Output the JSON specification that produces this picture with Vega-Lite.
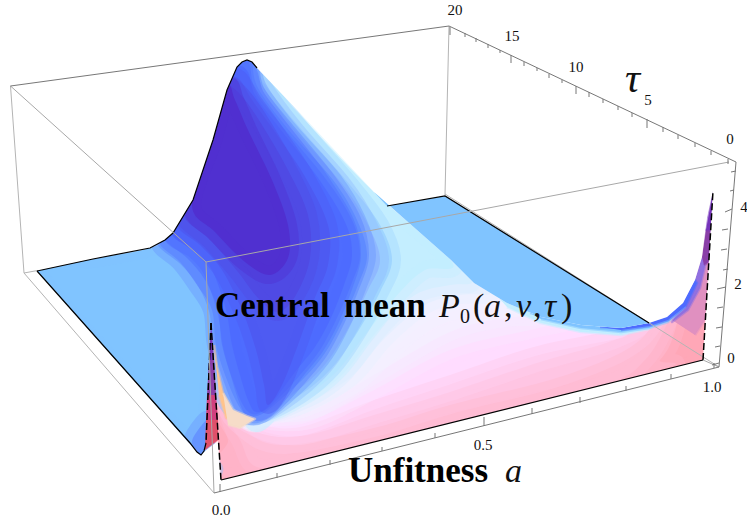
{"$schema":"https://vega.github.io/schema/vega-lite/v6.json","width":747,"height":521,"padding":0,"autosize":{"type":"none"},"background":"white","config":{"view":{"stroke":null}},
"datasets":{
"backEdges":[{"x":10.5,"y":86,"x2":24,"y2":273},{"x":24,"y":273,"x2":214,"y2":493},{"x":449,"y":26,"x2":445,"y2":195},{"x":445,"y":194,"x2":719,"y2":367},{"x":24,"y":273,"x2":37,"y2":270.6}],
"frontEdges":[{"x":10.5,"y":86,"x2":206,"y2":262},{"x":206,"y":262,"x2":729,"y2":162},{"x":206,"y":262,"x2":214,"y2":493},{"x":703,"y":360,"x2":719,"y2":367}],
"axisLines":[{"x":10.5,"y":86,"x2":449,"y2":26},{"x":449,"y":26,"x2":736,"y2":162},{"x":736,"y":162,"x2":719,"y2":367},{"x":214,"y":493,"x2":719,"y2":367},
{"x":220,"y":484,"x2":220,"y2":492},{"x":277,"y":473,"x2":277,"y2":478},{"x":330,"y":460,"x2":330,"y2":465},{"x":382,"y":447,"x2":382,"y2":451},{"x":435,"y":433,"x2":435,"y2":438},{"x":484,"y":417,"x2":484,"y2":426},{"x":532,"y":408,"x2":532,"y2":414},{"x":580,"y":397,"x2":580,"y2":403},{"x":626,"y":386,"x2":626,"y2":391},{"x":671,"y":374,"x2":671,"y2":379},{"x":714,"y":363,"x2":714,"y2":368},
{"x":450,"y":27,"x2":450,"y2":35},{"x":465,"y":33,"x2":465,"y2":37},{"x":476,"y":38,"x2":476,"y2":42},{"x":488,"y":44,"x2":488,"y2":48},{"x":500,"y":50,"x2":500,"y2":53},{"x":511,"y":55,"x2":511,"y2":63},{"x":524,"y":62,"x2":524,"y2":66},{"x":537,"y":68,"x2":537,"y2":71},{"x":549,"y":74,"x2":549,"y2":78},{"x":562,"y":80,"x2":562,"y2":83},{"x":576,"y":86,"x2":576,"y2":94},{"x":589,"y":92,"x2":589,"y2":97},{"x":603,"y":99,"x2":603,"y2":103},{"x":618,"y":106,"x2":618,"y2":110},{"x":632,"y":113,"x2":632,"y2":117},{"x":647,"y":119,"x2":647,"y2":128},{"x":663,"y":127,"x2":663,"y2":132},{"x":678,"y":135,"x2":678,"y2":139},{"x":695,"y":143,"x2":695,"y2":147},{"x":711,"y":151,"x2":711,"y2":155},{"x":728,"y":159,"x2":728,"y2":164},
{"x":731,"y":172,"x2":736,"y2":171},{"x":730,"y":191,"x2":734,"y2":190},{"x":725,"y":212,"x2":732,"y2":209},{"x":722,"y":230,"x2":728,"y2":229},{"x":721,"y":250,"x2":727,"y2":249},{"x":723,"y":270,"x2":728,"y2":269},{"x":717,"y":289,"x2":726,"y2":287},{"x":717,"y":308,"x2":723,"y2":307},{"x":716,"y":328,"x2":722,"y2":327},{"x":715,"y":347,"x2":720,"y2":346},{"x":712,"y":365,"x2":719,"y2":363}],
"soft":[
{"p":2,"s":0.3,"x":218,"y":375},{"p":2,"s":0.3,"x":221,"y":480},{"p":2,"s":0.3,"x":703,"y":360},{"p":2,"s":0.3,"x":708,"y":262},{"p":2,"s":0.3,"x":702,"y":257},{"p":2,"s":0.3,"x":695,"y":280},{"p":2,"s":0.3,"x":683,"y":303},{"p":2,"s":0.3,"x":667,"y":317},{"p":2,"s":0.3,"x":649,"y":323},{"p":2,"s":0.3,"x":621,"y":328},{"p":2,"s":0.3,"x":581,"y":325},{"p":2,"s":0.3,"x":541,"y":317},{"p":2,"s":0.3,"x":507,"y":303},{"p":2,"s":0.3,"x":474,"y":283},{"p":2,"s":0.3,"x":451,"y":260},{"p":2,"s":0.3,"x":400,"y":225},{"p":2,"s":0.3,"x":300,"y":200},{"p":2,"s":0.3,"x":230,"y":300},
{"p":3,"s":0.7,"x":219,"y":400},{"p":3,"s":0.7,"x":228,"y":440},{"p":3,"s":0.7,"x":236,"y":476},{"p":3,"s":0.7,"x":640,"y":376},{"p":3,"s":0.7,"x":660,"y":360},{"p":3,"s":0.7,"x":672,"y":340},{"p":3,"s":0.7,"x":680,"y":307},{"p":3,"s":0.7,"x":667,"y":317},{"p":3,"s":0.7,"x":649,"y":323},{"p":3,"s":0.7,"x":621,"y":328},{"p":3,"s":0.7,"x":581,"y":325},{"p":3,"s":0.7,"x":541,"y":317},{"p":3,"s":0.7,"x":507,"y":303},{"p":3,"s":0.7,"x":474,"y":283},{"p":3,"s":0.7,"x":451,"y":260},{"p":3,"s":0.7,"x":400,"y":225},{"p":3,"s":0.7,"x":300,"y":200},{"p":3,"s":0.7,"x":230,"y":300},
{"p":4,"s":1,"x":221,"y":395},{"p":4,"s":1,"x":240,"y":440},{"p":4,"s":1,"x":262,"y":468},{"p":4,"s":1,"x":340,"y":450},{"p":4,"s":1,"x":500,"y":410},{"p":4,"s":1,"x":610,"y":383},{"p":4,"s":1,"x":645,"y":360},{"p":4,"s":1,"x":664,"y":330},{"p":4,"s":1,"x":667,"y":317},{"p":4,"s":1,"x":649,"y":323},{"p":4,"s":1,"x":621,"y":328},{"p":4,"s":1,"x":581,"y":325},{"p":4,"s":1,"x":541,"y":317},{"p":4,"s":1,"x":507,"y":303},{"p":4,"s":1,"x":474,"y":283},{"p":4,"s":1,"x":451,"y":260},{"p":4,"s":1,"x":400,"y":225},{"p":4,"s":1,"x":300,"y":200},{"p":4,"s":1,"x":230,"y":300},
{"p":5,"s":1.3,"x":224,"y":395},{"p":5,"s":1.3,"x":245,"y":430},{"p":5,"s":1.3,"x":285,"y":445},{"p":5,"s":1.3,"x":374,"y":428},{"p":5,"s":1.3,"x":450,"y":405},{"p":5,"s":1.3,"x":550,"y":380},{"p":5,"s":1.3,"x":610,"y":358},{"p":5,"s":1.3,"x":640,"y":340},{"p":5,"s":1.3,"x":655,"y":321},{"p":5,"s":1.3,"x":649,"y":323},{"p":5,"s":1.3,"x":621,"y":328},{"p":5,"s":1.3,"x":581,"y":325},{"p":5,"s":1.3,"x":541,"y":317},{"p":5,"s":1.3,"x":507,"y":303},{"p":5,"s":1.3,"x":474,"y":283},{"p":5,"s":1.3,"x":451,"y":260},{"p":5,"s":1.3,"x":400,"y":225},{"p":5,"s":1.3,"x":300,"y":200},{"p":5,"s":1.3,"x":230,"y":300},
{"p":6,"s":1.6,"x":228,"y":395},{"p":6,"s":1.6,"x":250,"y":425},{"p":6,"s":1.6,"x":300,"y":436},{"p":6,"s":1.6,"x":374,"y":415},{"p":6,"s":1.6,"x":450,"y":392},{"p":6,"s":1.6,"x":540,"y":362},{"p":6,"s":1.6,"x":600,"y":345},{"p":6,"s":1.6,"x":630,"y":333},{"p":6,"s":1.6,"x":640,"y":326},{"p":6,"s":1.6,"x":621,"y":328},{"p":6,"s":1.6,"x":581,"y":325},{"p":6,"s":1.6,"x":541,"y":317},{"p":6,"s":1.6,"x":507,"y":303},{"p":6,"s":1.6,"x":474,"y":283},{"p":6,"s":1.6,"x":451,"y":260},{"p":6,"s":1.6,"x":400,"y":225},{"p":6,"s":1.6,"x":300,"y":200},{"p":6,"s":1.6,"x":230,"y":300},
{"p":7,"s":2,"x":232,"y":400},{"p":7,"s":2,"x":255,"y":422},{"p":7,"s":2,"x":300,"y":427},{"p":7,"s":2,"x":374,"y":400},{"p":7,"s":2,"x":450,"y":375},{"p":7,"s":2,"x":530,"y":348},{"p":7,"s":2,"x":590,"y":335},{"p":7,"s":2,"x":621,"y":328},{"p":7,"s":2,"x":581,"y":325},{"p":7,"s":2,"x":541,"y":317},{"p":7,"s":2,"x":507,"y":303},{"p":7,"s":2,"x":474,"y":283},{"p":7,"s":2,"x":451,"y":260},{"p":7,"s":2,"x":400,"y":225},{"p":7,"s":2,"x":300,"y":200},{"p":7,"s":2,"x":230,"y":300},
{"p":8,"s":2.4,"x":238,"y":408},{"p":8,"s":2.4,"x":258,"y":419},{"p":8,"s":2.4,"x":310,"y":420},{"p":8,"s":2.4,"x":374,"y":390},{"p":8,"s":2.4,"x":450,"y":350},{"p":8,"s":2.4,"x":530,"y":330},{"p":8,"s":2.4,"x":565,"y":322},{"p":8,"s":2.4,"x":541,"y":317},{"p":8,"s":2.4,"x":507,"y":303},{"p":8,"s":2.4,"x":474,"y":283},{"p":8,"s":2.4,"x":451,"y":260},{"p":8,"s":2.4,"x":400,"y":225},{"p":8,"s":2.4,"x":300,"y":200},{"p":8,"s":2.4,"x":230,"y":300},
{"p":9,"s":2.8,"x":244,"y":412},{"p":9,"s":2.8,"x":262,"y":417},{"p":9,"s":2.8,"x":310,"y":412},{"p":9,"s":2.8,"x":374,"y":375},{"p":9,"s":2.8,"x":450,"y":332},{"p":9,"s":2.8,"x":505,"y":318},{"p":9,"s":2.8,"x":535,"y":316},{"p":9,"s":2.8,"x":507,"y":303},{"p":9,"s":2.8,"x":474,"y":283},{"p":9,"s":2.8,"x":451,"y":260},{"p":9,"s":2.8,"x":400,"y":225},{"p":9,"s":2.8,"x":300,"y":200},{"p":9,"s":2.8,"x":230,"y":300},
{"p":10,"s":3.1,"x":247,"y":414},{"p":10,"s":3.1,"x":265,"y":416},{"p":10,"s":3.1,"x":305,"y":408},{"p":10,"s":3.1,"x":355,"y":384},{"p":10,"s":3.1,"x":390,"y":352},{"p":10,"s":3.1,"x":430,"y":320},{"p":10,"s":3.1,"x":480,"y":305},{"p":10,"s":3.1,"x":510,"y":305},{"p":10,"s":3.1,"x":474,"y":283},{"p":10,"s":3.1,"x":451,"y":260},{"p":10,"s":3.1,"x":400,"y":225},{"p":10,"s":3.1,"x":300,"y":200},{"p":10,"s":3.1,"x":230,"y":300},
{"p":11,"s":3.4,"x":249,"y":415},{"p":11,"s":3.4,"x":270,"y":414},{"p":11,"s":3.4,"x":302,"y":405},{"p":11,"s":3.4,"x":350,"y":378},{"p":11,"s":3.4,"x":385,"y":338},{"p":11,"s":3.4,"x":425,"y":305},{"p":11,"s":3.4,"x":460,"y":295},{"p":11,"s":3.4,"x":490,"y":294},{"p":11,"s":3.4,"x":474,"y":283},{"p":11,"s":3.4,"x":451,"y":260},{"p":11,"s":3.4,"x":400,"y":225},{"p":11,"s":3.4,"x":300,"y":200},{"p":11,"s":3.4,"x":230,"y":300},
{"p":12,"s":3.7,"x":250,"y":415},{"p":12,"s":3.7,"x":272,"y":413},{"p":12,"s":3.7,"x":297,"y":403},{"p":12,"s":3.7,"x":320,"y":392},{"p":12,"s":3.7,"x":345,"y":372},{"p":12,"s":3.7,"x":380,"y":328},{"p":12,"s":3.7,"x":415,"y":295},{"p":12,"s":3.7,"x":450,"y":285},{"p":12,"s":3.7,"x":472,"y":282},{"p":12,"s":3.7,"x":451,"y":260},{"p":12,"s":3.7,"x":400,"y":225},{"p":12,"s":3.7,"x":300,"y":200},{"p":12,"s":3.7,"x":230,"y":300},
{"p":13,"s":4,"x":250,"y":415},{"p":13,"s":4,"x":272,"y":412},{"p":13,"s":4,"x":293,"y":402},{"p":13,"s":4,"x":317,"y":388},{"p":13,"s":4,"x":340,"y":368},{"p":13,"s":4,"x":365,"y":335},{"p":13,"s":4,"x":400,"y":292},{"p":13,"s":4,"x":425,"y":270},{"p":13,"s":4,"x":452,"y":262},{"p":13,"s":4,"x":374,"y":192},{"p":13,"s":4,"x":300,"y":115},{"p":13,"s":4,"x":257,"y":68},{"p":13,"s":4,"x":245,"y":100},{"p":13,"s":4,"x":230,"y":300},
{"p":14,"s":4.5,"x":214,"y":330},{"p":14,"s":4.5,"x":217,"y":367},{"p":14,"s":4.5,"x":223,"y":393},{"p":14,"s":4.5,"x":233,"y":410},{"p":14,"s":4.5,"x":247,"y":416},{"p":14,"s":4.5,"x":265,"y":413},{"p":14,"s":4.5,"x":290,"y":401},{"p":14,"s":4.5,"x":315,"y":384},{"p":14,"s":4.5,"x":337,"y":362},{"p":14,"s":4.5,"x":360,"y":328},{"p":14,"s":4.5,"x":380,"y":292},{"p":14,"s":4.5,"x":392,"y":260},{"p":14,"s":4.5,"x":380,"y":225},{"p":14,"s":4.5,"x":350,"y":185},{"p":14,"s":4.5,"x":302,"y":130},{"p":14,"s":4.5,"x":265,"y":85},{"p":14,"s":4.5,"x":257,"y":68},{"p":14,"s":4.5,"x":247,"y":60},{"p":14,"s":4.5,"x":225,"y":200},
{"p":15,"s":5,"x":214,"y":330},{"p":15,"s":5,"x":217,"y":367},{"p":15,"s":5,"x":223,"y":393},{"p":15,"s":5,"x":233,"y":410},{"p":15,"s":5,"x":247,"y":416},{"p":15,"s":5,"x":262,"y":414},{"p":15,"s":5,"x":285,"y":400},{"p":15,"s":5,"x":310,"y":380},{"p":15,"s":5,"x":330,"y":358},{"p":15,"s":5,"x":350,"y":325},{"p":15,"s":5,"x":368,"y":290},{"p":15,"s":5,"x":380,"y":260},{"p":15,"s":5,"x":368,"y":225},{"p":15,"s":5,"x":343,"y":185},{"p":15,"s":5,"x":295,"y":130},{"p":15,"s":5,"x":262,"y":85},{"p":15,"s":5,"x":254,"y":65},{"p":15,"s":5,"x":247,"y":60},{"p":15,"s":5,"x":225,"y":200},
{"p":16,"s":14,"x":37,"y":271},{"p":16,"s":14,"x":93,"y":259},{"p":16,"s":14,"x":150,"y":248},{"p":16,"s":14,"x":173,"y":233},{"p":16,"s":14,"x":193,"y":200},{"p":16,"s":14,"x":213,"y":140},{"p":16,"s":14,"x":227,"y":90},{"p":16,"s":14,"x":237,"y":67},{"p":16,"s":14,"x":247,"y":60},{"p":16,"s":14,"x":250,"y":100},{"p":16,"s":14,"x":240,"y":300},{"p":16,"s":14,"x":214,"y":330},{"p":16,"s":14,"x":206,"y":443},{"p":16,"s":14,"x":201,"y":455},
{"p":17,"s":5.5,"x":192,"y":442},{"p":17,"s":5.5,"x":198,"y":430},{"p":17,"s":5.5,"x":208,"y":420},{"p":17,"s":5.5,"x":206,"y":443},{"p":17,"s":5.5,"x":201,"y":455},{"p":17,"s":5.5,"x":197,"y":452},
{"p":18,"s":5.5,"x":160,"y":244},{"p":18,"s":5.5,"x":180,"y":262},{"p":18,"s":5.5,"x":197,"y":285},{"p":18,"s":5.5,"x":212,"y":310},{"p":18,"s":5.5,"x":216,"y":345},{"p":18,"s":5.5,"x":227,"y":380},{"p":18,"s":5.5,"x":240,"y":408},{"p":18,"s":5.5,"x":250,"y":416},{"p":18,"s":5.5,"x":262,"y":414},{"p":18,"s":5.5,"x":280,"y":400},{"p":18,"s":5.5,"x":305,"y":377},{"p":18,"s":5.5,"x":325,"y":353},{"p":18,"s":5.5,"x":342,"y":322},{"p":18,"s":5.5,"x":358,"y":285},{"p":18,"s":5.5,"x":367,"y":255},{"p":18,"s":5.5,"x":357,"y":220},{"p":18,"s":5.5,"x":333,"y":180},{"p":18,"s":5.5,"x":287,"y":128},{"p":18,"s":5.5,"x":258,"y":88},{"p":18,"s":5.5,"x":252,"y":64},{"p":18,"s":5.5,"x":247,"y":60},{"p":18,"s":5.5,"x":237,"y":67},{"p":18,"s":5.5,"x":227,"y":90},{"p":18,"s":5.5,"x":213,"y":140},{"p":18,"s":5.5,"x":193,"y":200},{"p":18,"s":5.5,"x":173,"y":233},
{"p":19,"s":5.8,"x":165,"y":240},{"p":19,"s":5.8,"x":187,"y":258},{"p":19,"s":5.8,"x":205,"y":280},{"p":19,"s":5.8,"x":218,"y":310},{"p":19,"s":5.8,"x":222,"y":345},{"p":19,"s":5.8,"x":232,"y":378},{"p":19,"s":5.8,"x":243,"y":405},{"p":19,"s":5.8,"x":252,"y":414},{"p":19,"s":5.8,"x":262,"y":412},{"p":19,"s":5.8,"x":275,"y":402},{"p":19,"s":5.8,"x":300,"y":375},{"p":19,"s":5.8,"x":320,"y":350},{"p":19,"s":5.8,"x":336,"y":320},{"p":19,"s":5.8,"x":351,"y":285},{"p":19,"s":5.8,"x":360,"y":255},{"p":19,"s":5.8,"x":352,"y":220},{"p":19,"s":5.8,"x":325,"y":178},{"p":19,"s":5.8,"x":282,"y":126},{"p":19,"s":5.8,"x":256,"y":92},{"p":19,"s":5.8,"x":250,"y":66},{"p":19,"s":5.8,"x":247,"y":60},{"p":19,"s":5.8,"x":237,"y":67},{"p":19,"s":5.8,"x":227,"y":90},{"p":19,"s":5.8,"x":213,"y":140},{"p":19,"s":5.8,"x":193,"y":200},{"p":19,"s":5.8,"x":173,"y":233},
{"p":20,"s":6,"x":172,"y":233},{"p":20,"s":6,"x":195,"y":250},{"p":20,"s":6,"x":212,"y":270},{"p":20,"s":6,"x":226,"y":310},{"p":20,"s":6,"x":232,"y":345},{"p":20,"s":6,"x":240,"y":375},{"p":20,"s":6,"x":248,"y":400},{"p":20,"s":6,"x":256,"y":412},{"p":20,"s":6,"x":270,"y":405},{"p":20,"s":6,"x":295,"y":372},{"p":20,"s":6,"x":315,"y":347},{"p":20,"s":6,"x":330,"y":320},{"p":20,"s":6,"x":344,"y":285},{"p":20,"s":6,"x":352,"y":255},{"p":20,"s":6,"x":345,"y":222},{"p":20,"s":6,"x":316,"y":175},{"p":20,"s":6,"x":277,"y":125},{"p":20,"s":6,"x":255,"y":95},{"p":20,"s":6,"x":248,"y":72},{"p":20,"s":6,"x":237,"y":67},{"p":20,"s":6,"x":227,"y":90},{"p":20,"s":6,"x":213,"y":140},{"p":20,"s":6,"x":193,"y":200},
{"p":21,"s":6.3,"x":178,"y":226},{"p":21,"s":6.3,"x":200,"y":245},{"p":21,"s":6.3,"x":222,"y":270},{"p":21,"s":6.3,"x":242,"y":310},{"p":21,"s":6.3,"x":256,"y":350},{"p":21,"s":6.3,"x":264,"y":385},{"p":21,"s":6.3,"x":268,"y":405},{"p":21,"s":6.3,"x":282,"y":385},{"p":21,"s":6.3,"x":298,"y":345},{"p":21,"s":6.3,"x":314,"y":300},{"p":21,"s":6.3,"x":328,"y":265},{"p":21,"s":6.3,"x":328,"y":225},{"p":21,"s":6.3,"x":304,"y":175},{"p":21,"s":6.3,"x":270,"y":125},{"p":21,"s":6.3,"x":252,"y":100},{"p":21,"s":6.3,"x":240,"y":80},{"p":21,"s":6.3,"x":232,"y":78},{"p":21,"s":6.3,"x":227,"y":90},{"p":21,"s":6.3,"x":213,"y":140},{"p":21,"s":6.3,"x":193,"y":200},
{"p":22,"s":6.6,"x":185,"y":218},{"p":22,"s":6.6,"x":210,"y":240},{"p":22,"s":6.6,"x":238,"y":272},{"p":22,"s":6.6,"x":258,"y":298},{"p":22,"s":6.6,"x":278,"y":312},{"p":22,"s":6.6,"x":296,"y":295},{"p":22,"s":6.6,"x":310,"y":258},{"p":22,"s":6.6,"x":308,"y":215},{"p":22,"s":6.6,"x":288,"y":170},{"p":22,"s":6.6,"x":262,"y":125},{"p":22,"s":6.6,"x":245,"y":100},{"p":22,"s":6.6,"x":233,"y":88},{"p":22,"s":6.6,"x":227,"y":90},{"p":22,"s":6.6,"x":213,"y":140},{"p":22,"s":6.6,"x":193,"y":200},
{"p":23,"s":7,"x":192,"y":205},{"p":23,"s":7,"x":215,"y":232},{"p":23,"s":7,"x":245,"y":262},{"p":23,"s":7,"x":270,"y":275},{"p":23,"s":7,"x":288,"y":258},{"p":23,"s":7,"x":288,"y":225},{"p":23,"s":7,"x":272,"y":180},{"p":23,"s":7,"x":248,"y":130},{"p":23,"s":7,"x":235,"y":100},{"p":23,"s":7,"x":228,"y":88},{"p":23,"s":7,"x":213,"y":140}
],
"thin":[
{"p":24,"s":13,"x":672,"y":320},{"p":24,"s":13,"x":686,"y":310},{"p":24,"s":13,"x":698,"y":285},{"p":24,"s":13,"x":704,"y":262},{"p":24,"s":13,"x":709,"y":262},{"p":24,"s":13,"x":705,"y":320},{"p":24,"s":13,"x":695,"y":335},
{"p":25,"s":12,"x":695,"y":280},{"p":25,"s":12,"x":702,"y":257},{"p":25,"s":12,"x":706,"y":262},{"p":25,"s":12,"x":700,"y":288},{"p":25,"s":12,"x":688,"y":310},{"p":25,"s":12,"x":672,"y":322},{"p":25,"s":12,"x":683,"y":303},
{"p":26,"s":8,"x":702,"y":257},{"p":26,"s":8,"x":706,"y":230},{"p":26,"s":8,"x":711,"y":230},{"p":26,"s":8,"x":709,"y":262},{"p":26,"s":8,"x":704,"y":265},
{"p":27,"s":7.5,"x":713,"y":191},{"p":27,"s":7.5,"x":706,"y":230},{"p":27,"s":7.5,"x":711,"y":230},
{"p":28,"s":4.01,"x":500,"y":299},{"p":28,"s":4.01,"x":541,"y":317},{"p":28,"s":4.01,"x":581,"y":325},{"p":28,"s":4.01,"x":621,"y":328},{"p":28,"s":4.01,"x":649,"y":323},{"p":28,"s":4.01,"x":660,"y":322},{"p":28,"s":4.01,"x":649,"y":329},{"p":28,"s":4.01,"x":621,"y":335},{"p":28,"s":4.01,"x":581,"y":332},{"p":28,"s":4.01,"x":541,"y":323},{"p":28,"s":4.01,"x":507,"y":307},
{"p":29,"s":14,"x":530,"y":313},{"p":29,"s":14,"x":581,"y":325},{"p":29,"s":14,"x":621,"y":328},{"p":29,"s":14,"x":649,"y":323},{"p":29,"s":14,"x":667,"y":317},{"p":29,"s":14,"x":683,"y":303},{"p":29,"s":14,"x":685,"y":307},{"p":29,"s":14,"x":668,"y":322},{"p":29,"s":14,"x":649,"y":328},{"p":29,"s":14,"x":621,"y":332},{"p":29,"s":14,"x":581,"y":328},{"p":29,"s":14,"x":541,"y":319},
{"p":30,"s":6.01,"x":600,"y":327},{"p":30,"s":6.01,"x":621,"y":328},{"p":30,"s":6.01,"x":649,"y":323},{"p":30,"s":6.01,"x":667,"y":317},{"p":30,"s":6.01,"x":683,"y":303},{"p":30,"s":6.01,"x":695,"y":280},{"p":30,"s":6.01,"x":697,"y":283},{"p":30,"s":6.01,"x":686,"y":306},{"p":30,"s":6.01,"x":668,"y":320},{"p":30,"s":6.01,"x":649,"y":326},{"p":30,"s":6.01,"x":621,"y":330},
{"p":31,"s":10,"x":214,"y":345},{"p":31,"s":10,"x":217,"y":367},{"p":31,"s":10,"x":223,"y":393},{"p":31,"s":10,"x":231,"y":410},{"p":31,"s":10,"x":233,"y":420},{"p":31,"s":10,"x":226,"y":418},{"p":31,"s":10,"x":219,"y":395},
{"p":32,"s":11,"x":223,"y":393},{"p":32,"s":11,"x":233,"y":410},{"p":32,"s":11,"x":247,"y":416},{"p":32,"s":11,"x":255,"y":419},{"p":32,"s":11,"x":240,"y":428},{"p":32,"s":11,"x":228,"y":425}
],
"outside":[{"x":0,"y":271},{"x":0,"y":521},{"x":747,"y":521},{"x":747,"y":0},{"x":0,"y":0},{"x":0,"y":271},{"x":37,"y":271},{"x":93,"y":259},{"x":150,"y":248},{"x":165,"y":240},{"x":173,"y":233},{"x":193,"y":200},{"x":213,"y":140},{"x":227,"y":90},{"x":237,"y":67},{"x":242,"y":62},{"x":247,"y":60},{"x":252,"y":62},{"x":257,"y":68},{"x":300,"y":113},{"x":374,"y":192},{"x":451,"y":260},{"x":474,"y":283},{"x":507,"y":303},{"x":541,"y":317},{"x":581,"y":325},{"x":621,"y":328},{"x":649,"y":323},{"x":667,"y":317},{"x":683,"y":303},{"x":695,"y":280},{"x":702,"y":257},{"x":707,"y":217},{"x":713,"y":191},{"x":703,"y":360},{"x":221,"y":480},{"x":218,"y":441},{"x":205,"y":451},{"x":201,"y":455},{"x":197,"y":452},{"x":37,"y":271},{"x":0,"y":271}],
"crisp":[
{"p":1,"s":14,"x":387,"y":206},{"p":1,"s":14,"x":445,"y":196},{"p":1,"s":14,"x":649,"y":323},{"p":1,"s":14,"x":621,"y":328},{"p":1,"s":14,"x":581,"y":325},{"p":1,"s":14,"x":541,"y":317},{"p":1,"s":14,"x":507,"y":303},{"p":1,"s":14,"x":474,"y":283},{"p":1,"s":14,"x":451,"y":260},{"p":1,"s":14,"x":374,"y":192},
{"p":33,"s":7.5,"x":211,"y":323},{"p":33,"s":7.5,"x":209,"y":360},{"p":33,"s":7.5,"x":214,"y":360},
{"p":34,"s":8.01,"x":209,"y":360},{"p":34,"s":8.01,"x":207,"y":395},{"p":34,"s":8.01,"x":216,"y":395},{"p":34,"s":8.01,"x":214,"y":360},
{"p":35,"s":8.7,"x":207,"y":395},{"p":35,"s":8.7,"x":206,"y":420},{"p":35,"s":8.7,"x":218,"y":420},{"p":35,"s":8.7,"x":216,"y":395},
{"p":36,"s":9,"x":206,"y":420},{"p":36,"s":9,"x":205,"y":450},{"p":36,"s":9,"x":218,"y":440},{"p":36,"s":9,"x":218,"y":420}
],
"edges":[
{"e":1,"x":387,"y":206},{"e":1,"x":445,"y":196},{"e":1,"x":649,"y":323},
{"e":2,"x":37,"y":271},{"e":2,"x":190,"y":443},{"e":2,"x":197,"y":452},{"e":2,"x":201,"y":455},{"e":2,"x":204,"y":451},{"e":2,"x":206,"y":443},
{"e":3,"x":37,"y":271},{"e":3,"x":93,"y":259},{"e":3,"x":150,"y":248},{"e":3,"x":165,"y":240},{"e":3,"x":173,"y":233},{"e":3,"x":193,"y":200},{"e":3,"x":213,"y":140},{"e":3,"x":227,"y":90},{"e":3,"x":237,"y":67},{"e":3,"x":242,"y":62},{"e":3,"x":247,"y":60},{"e":3,"x":252,"y":62},{"e":3,"x":257,"y":68},
{"e":4,"x":221,"y":480},{"e":4,"x":703,"y":360}],
"dashes":[{"e":1,"x":211,"y":323},{"e":1,"x":206,"y":443},{"e":2,"x":211,"y":323},{"e":2,"x":221,"y":480},{"e":3,"x":703,"y":360},{"e":3,"x":713,"y":191}],
"ticklabels":[{"x":221,"y":510,"t":"0.0"},{"x":483,"y":445,"t":"0.5"},{"x":712,"y":387,"t":"1.0"},{"x":455,"y":10,"t":"20"},{"x":512,"y":36,"t":"15"},{"x":576,"y":67,"t":"10"},{"x":648,"y":100,"t":"5"},{"x":730,"y":139,"t":"0"},{"x":744,"y":207,"t":"4"},{"x":738,"y":284,"t":"2"},{"x":731,"y":358,"t":"0"}],
"boldText":[{"x":215,"y":317,"t":"Central"},{"x":344,"y":317,"t":"mean"},{"x":348,"y":482,"t":"Unfitness"}],
"italicText":[{"x":439,"y":317,"t":"P"},{"x":484,"y":317,"t":"a"},{"x":516,"y":317,"t":"ν"},{"x":544,"y":317,"t":"τ"},{"x":505,"y":482,"t":"a"}],
"tauText":[{"x":625,"y":92,"t":"τ"}],
"romanText":[{"x":473,"y":317,"t":"("},{"x":504,"y":317,"t":","},{"x":533,"y":317,"t":","},{"x":561,"y":317,"t":")"}],
"subText":[{"x":460,"y":323,"t":"0"}]
},
"encoding":{"x":{"field":"x","type":"quantitative","scale":{"domain":[0,747],"nice":false,"zero":false},"axis":null},"y":{"field":"y","type":"quantitative","scale":{"domain":[521,0],"nice":false,"zero":false},"axis":null}},
"layer":[
{"data":{"name":"soft"},"mark":{"type":"line","order":false,"interpolate":"cardinal-closed","strokeWidth":18,"strokeOpacity":0.4,"strokeJoin":"round"},"encoding":{"detail":{"field":"p"},"fill":{"field":"s","type":"quantitative","legend":null,"scale":{"domain":[0,1,2,3,4,5,6,7,8,9,10,11,12,13,14],"range":["#ff9fa8","#ffbcd4","#ffdcff","#f6f2ff","#c4eeff","#8fb8ff","#4e6cff","#5030d0","#8a3fa8","#e0506a","#ffc48c","#f6dcc8","#9070e0","#e090c0","#80c4ff"]}},"stroke":{"field":"s","type":"quantitative","legend":null,"scale":{"domain":[0,1,2,3,4,5,6,7,8,9,10,11,12,13,14],"range":["#ff9fa8","#ffbcd4","#ffdcff","#f6f2ff","#c4eeff","#8fb8ff","#4e6cff","#5030d0","#8a3fa8","#e0506a","#ffc48c","#f6dcc8","#9070e0","#e090c0","#80c4ff"]}}}},
{"data":{"name":"thin"},"mark":{"type":"line","order":false,"strokeWidth":2.5,"strokeOpacity":0.5,"strokeJoin":"round"},"encoding":{"detail":{"field":"p"},"fill":{"field":"s","type":"quantitative","legend":null,"scale":{"domain":[0,1,2,3,4,5,6,7,8,9,10,11,12,13,14],"range":["#ff9fa8","#ffbcd4","#ffdcff","#f6f2ff","#c4eeff","#8fb8ff","#4e6cff","#5030d0","#8a3fa8","#e0506a","#ffc48c","#f6dcc8","#9070e0","#e090c0","#80c4ff"]}},"stroke":{"field":"s","type":"quantitative","legend":null,"scale":{"domain":[0,1,2,3,4,5,6,7,8,9,10,11,12,13,14],"range":["#ff9fa8","#ffbcd4","#ffdcff","#f6f2ff","#c4eeff","#8fb8ff","#4e6cff","#5030d0","#8a3fa8","#e0506a","#ffc48c","#f6dcc8","#9070e0","#e090c0","#80c4ff"]}}}},
{"data":{"name":"outside"},"mark":{"type":"line","order":false,"strokeWidth":0,"stroke":"transparent"},"encoding":{"fill":{"value":"#ffffff"}}},
{"data":{"name":"backEdges"},"mark":{"type":"rule","color":"#b4b4b4","strokeWidth":1},"encoding":{"x2":{"field":"x2"},"y2":{"field":"y2"}}},
{"data":{"name":"crisp"},"mark":{"type":"line","order":false,"strokeWidth":0,"stroke":"transparent"},"encoding":{"detail":{"field":"p"},"fill":{"field":"s","type":"quantitative","legend":null,"scale":{"domain":[0,1,2,3,4,5,6,7,8,9,10,11,12,13,14],"range":["#ff9fa8","#ffbcd4","#ffdcff","#f6f2ff","#c4eeff","#8fb8ff","#4e6cff","#5030d0","#8a3fa8","#e0506a","#ffc48c","#f6dcc8","#9070e0","#e090c0","#80c4ff"]}}}},
{"data":{"name":"edges"},"mark":{"type":"line","order":false,"color":"#000000","strokeWidth":1.2},"encoding":{"detail":{"field":"e"}}},
{"data":{"name":"dashes"},"mark":{"type":"line","order":false,"color":"#000000","strokeWidth":1.5,"strokeDash":[7,3]},"encoding":{"detail":{"field":"e"}}},
{"data":{"name":"frontEdges"},"mark":{"type":"rule","color":"#a8a8a8","strokeWidth":1},"encoding":{"x2":{"field":"x2"},"y2":{"field":"y2"}}},
{"data":{"name":"axisLines"},"mark":{"type":"rule","color":"#777777","strokeWidth":1},"encoding":{"x2":{"field":"x2"},"y2":{"field":"y2"}}},
{"data":{"name":"ticklabels"},"mark":{"type":"text","font":"Liberation Serif","fontSize":15,"align":"center","baseline":"middle","color":"#111111"},"encoding":{"text":{"field":"t"}}},
{"data":{"name":"boldText"},"mark":{"type":"text","font":"Liberation Serif","fontSize":35,"fontWeight":"bold","align":"left","baseline":"alphabetic","color":"#000000"},"encoding":{"text":{"field":"t"}}},
{"data":{"name":"italicText"},"mark":{"type":"text","font":"Liberation Serif","fontSize":34,"fontStyle":"italic","align":"left","baseline":"alphabetic","color":"#111111"},"encoding":{"text":{"field":"t"}}},
{"data":{"name":"tauText"},"mark":{"type":"text","font":"Liberation Serif","fontSize":42,"fontStyle":"italic","align":"left","baseline":"alphabetic","color":"#111111"},"encoding":{"text":{"field":"t"}}},
{"data":{"name":"romanText"},"mark":{"type":"text","font":"Liberation Serif","fontSize":34,"align":"left","baseline":"alphabetic","color":"#111111"},"encoding":{"text":{"field":"t"}}},
{"data":{"name":"subText"},"mark":{"type":"text","font":"Liberation Serif","fontSize":20,"align":"left","baseline":"alphabetic","color":"#111111"},"encoding":{"text":{"field":"t"}}}
]}
